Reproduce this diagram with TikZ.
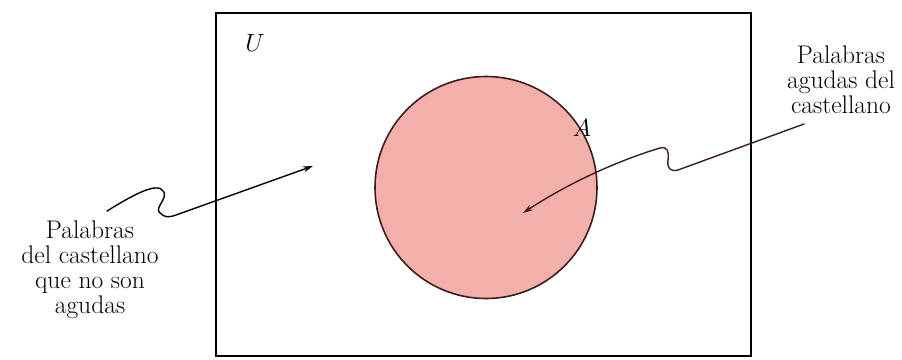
\documentclass[tikz,border=0pt]{standalone}
\usetikzlibrary{arrows.meta}
\definecolor{pinkfill}{RGB}{243,175,170}
\definecolor{edgecol}{RGB}{60,30,30}
\begin{document}
\begin{tikzpicture}[x=1pt,y=-1pt,
  labeltext/.style={font=\fontsize{25.5}{25}\selectfont, align=center, inner sep=0pt},
  setname/.style={font=\fontsize{26}{26}\selectfont, inner sep=0pt},
  wiggle/.style={line width=1.4pt, -{Stealth[length=10pt,width=6pt]}, line cap=round, line join=round},
  ]
\useasboundingbox[fill=white] (0,0) rectangle (902,359);
\node[draw, line width=1.8pt, minimum width=535pt, minimum height=343pt, inner sep=0pt] (U) at (483.5,184.5) {};
\node[circle, draw=edgecol, fill=pinkfill, line width=1.6pt, minimum size=222pt, inner sep=0pt] (setA) at (486,187.5) {};
\node[setname] (Ulabel) at (255,43) {$U$};
\node[setname] (Alabel) at (582,128) {$A$};
\node[labeltext] (rtext) at (841,80) {Palabras\\agudas del\\castellano};
\node[labeltext] (ltext) at (90,270) {Palabras\\del castellano\\que no son\\agudas};
\coordinate (ls) at (107,211);
\coordinate (ltip) at (313,166);
\coordinate (rs) at (804,124);
\coordinate (rtip) at (523,213);
\draw[wiggle] (ls) .. controls (130,197) and (158,180) .. (164,192) .. controls (167,200) and (154,208) .. (160,213) .. controls (164,217) and (168,218) .. (176,215) -- (ltip);
\draw[wiggle, draw=edgecol] (rs) -- (678,170) .. controls (670,172) and (667,168) .. (668,160) .. controls (669,152) and (668,146) .. (660,148) .. controls (620,160) and (570,182) .. (rtip);
\end{tikzpicture}
\end{document}
